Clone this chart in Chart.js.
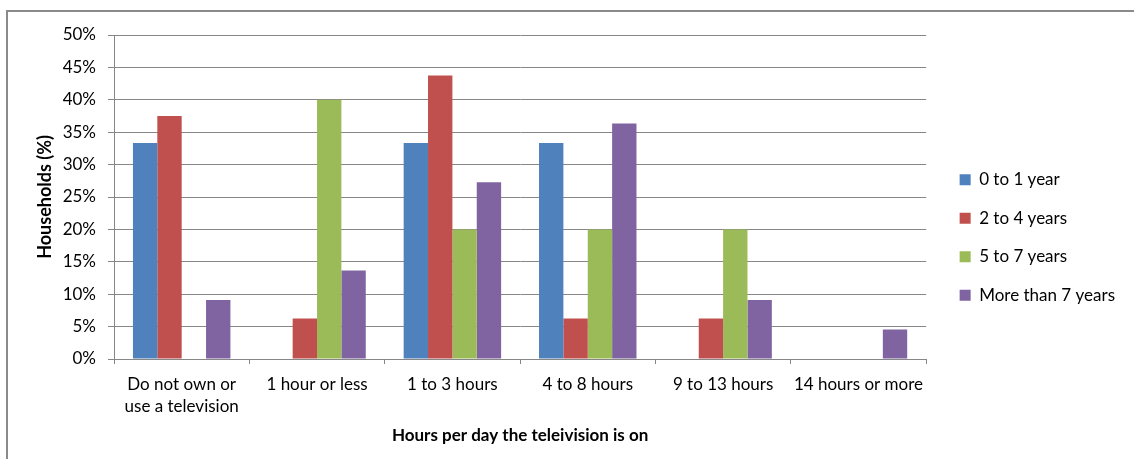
<!DOCTYPE html>
<html lang="en">
<head>
    <meta charset="UTF-8">
    <title>Households by hours per day the television is on</title>
    <script src="https://cdn.jsdelivr.net/npm/chart.js"></script>
    <style>
        html, body {
            margin: 0;
            padding: 0;
            background: #fff;
            overflow: hidden;
        }
        #frame {
            position: absolute;
            left: 6px;
            top: 10px;
            width: 1128px;
            height: 452px;
            border-top: 2px solid #8a8a8a;
            border-left: 2px solid #8a8a8a;
        }
        canvas {
            display: block;
        }
    </style>
</head>
<body>

<div id="frame"><canvas id="tvChart" width="1126" height="450"></canvas></div>

<script>
    // Hours per day the TV is on (categories) and the age groups (series)
    const categories = [
        ['Do not own or', 'use a television'],
        '1 hour or less',
        '1 to 3 hours',
        '4 to 8 hours',
        '9 to 13 hours',
        '14 hours or more'
    ];
    const seriesNames = ['0 to 1 year', '2 to 4 years', '5 to 7 years', 'More than 7 years'];

    // Share of households, in percent
    const age0to1 = [33.33, 0, 33.33, 33.33, 0, 0];
    const age2to4 = [37.5, 6.25, 43.75, 6.25, 6.25, 0];
    const age5to7 = [0, 40, 20, 20, 20, 0];
    const age7plus = [9.09, 13.64, 27.27, 36.36, 9.09, 4.55];

    const yMax = 50;
    const yStep = 5;

    const seriesColors = ['#4F81BD', '#C0504D', '#9BBB59', '#8064A2'];
    const gridColor = '#878787';

    Chart.defaults.font.family = 'Lato, Carlito, sans-serif';
    Chart.defaults.color = '#000';

    // push the legend a little right / up from where the box layout puts it
    const legendNudge = {
        id: 'legendNudge',
        afterLayout(chart) {
            const lg = chart.legend;
            lg.left += 12;
            lg.right += 12;
            lg.top -= 3.5;
            lg.bottom -= 3.5;
        }
    };

    const allSeries = [age0to1, age2to4, age5to7, age7plus];

    new Chart(document.getElementById('tvChart'), {
        type: 'bar',
        data: {
            labels: categories,
            datasets: allSeries.map((values, i) => ({
                label: seriesNames[i],
                data: values,
                backgroundColor: seriesColors[i],
                borderWidth: 0,
                barPercentage: 1.0,
                categoryPercentage: 0.72
            }))
        },
        options: {
            responsive: false,
            animation: false,
            layout: {
                padding: { top: 23, bottom: 15, left: 0, right: 21 }
            },
            plugins: {
                tooltip: { enabled: false },
                legend: {
                    position: 'right',
                    labels: {
                        boxWidth: 11,
                        boxHeight: 11,
                        padding: 21.5,
                        font: { size: 17 },
                        color: '#000'
                    }
                }
            },
            scales: {
                x: {
                    afterFit(scale) { scale.height = 88; },
                    grid: {
                        drawOnChartArea: false,
                        color: gridColor,
                        tickLength: 5
                    },
                    border: { color: gridColor },
                    ticks: {
                        padding: 9.5,
                        maxRotation: 0,
                        autoSkip: false,
                        font: { size: 17, lineHeight: 1.3 }
                    },
                    title: {
                        display: true,
                        text: 'Hours per day the teleivision is on',
                        font: { size: 17, weight: 'bold' },
                        padding: { top: 0, bottom: 1 }
                    }
                },
                y: {
                    min: 0,
                    max: yMax,
                    afterFit(scale) { scale.width = 106; },
                    grid: {
                        color: gridColor,
                        tickLength: 6
                    },
                    border: { color: gridColor },
                    ticks: {
                        stepSize: yStep,
                        padding: 12,
                        font: { size: 17 },
                        callback: v => v + '%'
                    },
                    title: {
                        display: true,
                        text: 'Households (%)',
                        font: { size: 18, weight: 'bold' },
                        padding: { top: 26, bottom: 0 }
                    }
                }
            }
        },
        plugins: [legendNudge]
    });
</script>

</body>
</html>
